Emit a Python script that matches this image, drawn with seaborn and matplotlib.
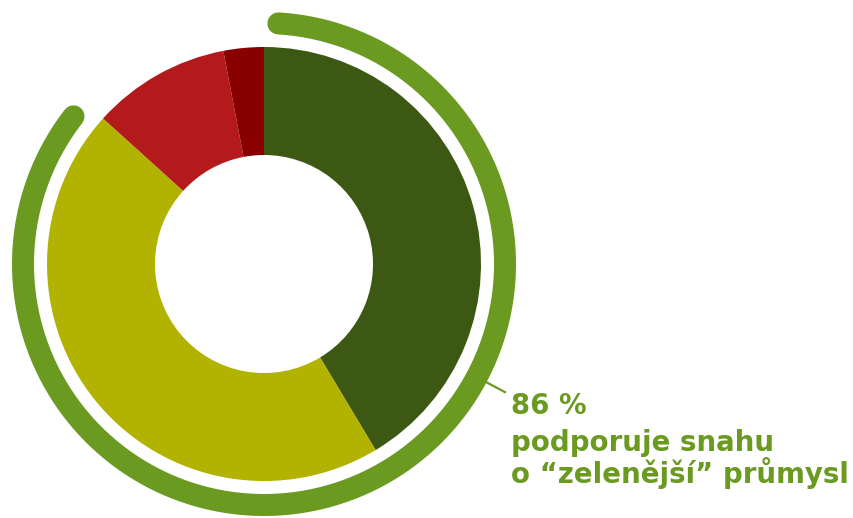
import numpy as np
import matplotlib
matplotlib.use("Agg")
import matplotlib.pyplot as plt
import seaborn as sns

# ---- data ----
categories = ["Rozhodně ano", "Spíše ano", "Spíše ne", "Rozhodně ne"]
shares = [41.4, 45.3, 10.3, 3.0]
colors = ["#3d5812", "#b2b300", "#b41a1c", "#8a0000"]
support_share = 86
label_lines = ["86 %", "podporuje snahu", "o “zelenější” průmysl"]
accent = "#6a9a20"

sns.set_theme(style="white")
plt.rcParams["font.family"] = ["DejaVu Sans"]

W, H = 854, 518
fig = plt.figure(figsize=(W / 100, H / 100), dpi=100)
ax = fig.add_axes([0, 0, 1, 1])

cx, cy = 264, H - 264
R_outer = 217
ring = 108

ax.pie(shares, colors=colors, radius=R_outer, center=(cx, cy),
       startangle=90, counterclock=False,
       wedgeprops=dict(width=ring, linewidth=0, antialiased=True),
       frame=True)
ax.set_xlim(0, W)
ax.set_ylim(0, H)
ax.set_aspect("equal")
ax.axis("off")

# outer arc showing support share (round caps included in total)
R_arc = 241
lw_px = 22
cap_deg = np.degrees((lw_px / 2) / R_arc)
total_deg = support_share / 100 * 360
start = 0.8 + cap_deg
end = 0.8 + total_deg - cap_deg
th = np.radians(np.linspace(start, end, 400))
ax.plot(cx + R_arc * np.sin(th), cy + R_arc * np.cos(th), color=accent,
        lw=lw_px * 72 / 100, solid_capstyle="round")

# leader tick
lead = np.radians(118)
r1, r2 = R_arc + 9, 274
ax.plot([cx + r1 * np.sin(lead), cx + r2 * np.sin(lead)],
        [cy + r1 * np.cos(lead), cy + r2 * np.cos(lead)],
        color=accent, lw=1.6, solid_capstyle="butt")

# label
baselines = [414, 451, 483]
for txt, b in zip(label_lines, baselines):
    ax.text(511, H - b, txt, color=accent, fontsize=19.9, fontweight="bold",
            ha="left", va="baseline")

fig.savefig("out.png", dpi=100)
